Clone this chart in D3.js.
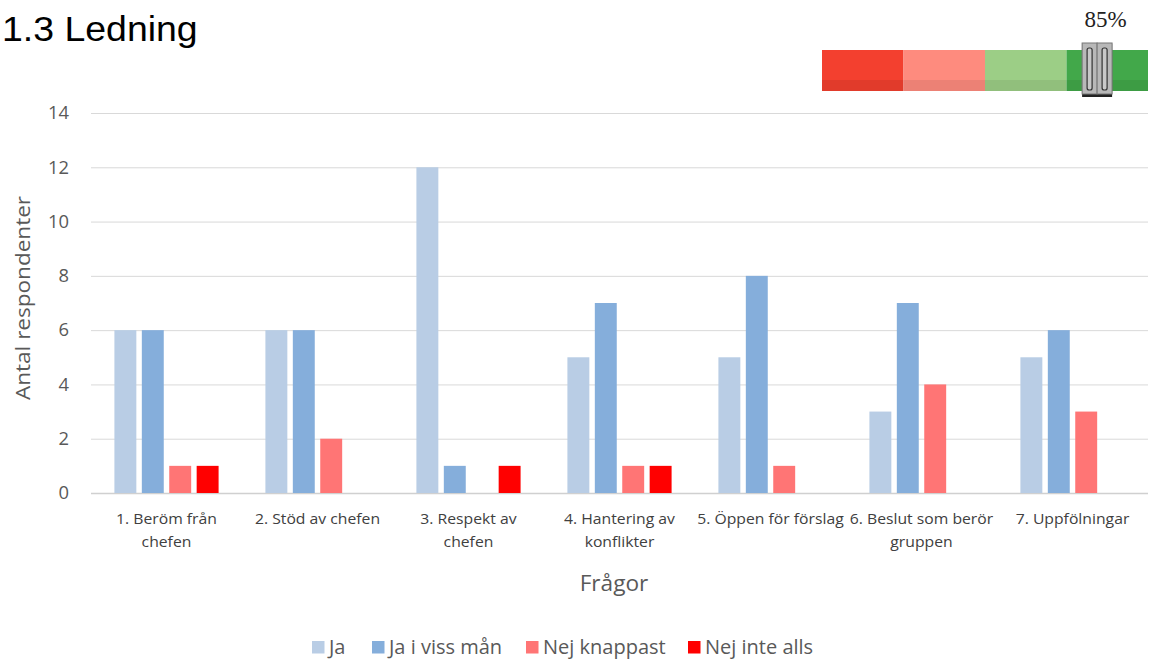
<!DOCTYPE html>
<html><head><meta charset="utf-8">
<script src="https://cdn.jsdelivr.net/npm/d3@7"></script>
<style>body{margin:0;background:#fff;}svg{display:block;}</style>
</head><body>
<script>
const categories = ["1. Beröm från\nchefen","2. Stöd av chefen","3. Respekt av\nchefen","4. Hantering av\nkonflikter","5. Öppen för förslag","6. Beslut som berör\ngruppen","7. Uppfölningar"];
const seriesNames = ["Ja","Ja i viss mån","Nej knappast","Nej inte alls"];
const ja = [6,6,12,5,5,3,5];
const jaIVissMan = [6,6,1,7,8,7,6];
const nejKnappast = [1,2,0,1,1,4,3];
const nejInteAlls = [1,0,1,1,0,0,0];
const yTicks = [0,2,4,6,8,10,12,14];
const gaugeValue = 85;
const gaugeBands = [0,25,50,75,100];

const colors = ["#B9CDE5","#85AEDB","#FF7575","#FF0000"];
const gaugeColors = ["#F3402F","#FE8B7E","#9CCE86","#42A84A"];
const series = [ja, jaIVissMan, nejKnappast, nejInteAlls];

const W=1150,H=661;
const svg=d3.select("body").append("svg").attr("width",W).attr("height",H);
const m={left:91,right:1148,top:113,bottom:493};
const x=d3.scaleBand().domain(categories).range([m.left,m.right]).paddingInner(0.31).paddingOuter(0.155);
const xs=d3.scaleBand().domain(seriesNames).range([0,x.bandwidth()]).paddingInner(0.2);
const y=d3.scaleLinear().domain([0,14]).range([m.bottom,m.top]);
const FONT="Open Sans, sans-serif";

function stext(parent,tx,ty,str,opts){
  const t=parent.append("text")
   .attr("transform",`translate(${tx},${ty})${opts.rot?` rotate(${opts.rot})`:""} scale(${opts.sx||1},1)`)
   .attr("text-anchor",opts.anchor||"start").attr("font-family",opts.font||FONT)
   .attr("font-size",opts.size).attr("fill",opts.fill||"#595959").text(str);
  if(opts.dy) t.attr("dy",opts.dy);
  return t;
}

// gridlines
svg.append("g").selectAll("line").data(yTicks).join("line")
 .attr("x1",m.left).attr("x2",m.right).attr("y1",d=>y(d)+0.5).attr("y2",d=>y(d)+0.5)
 .attr("stroke",d=>d===0?"#d0d0d0":"#d9d9d9").attr("stroke-width",d=>d===0?1.5:1);

// y tick labels
const yt=svg.append("g");
yTicks.forEach(d=>stext(yt,69,y(d),d,{anchor:"end",size:17.5,sx:1.05,dy:"0.36em"}));

// bars
const g=svg.append("g");
series.forEach((s,i)=>{
 g.append("g").selectAll("rect").data(s.map((v,j)=>({v,c:categories[j]}))).join("rect")
  .attr("x",d=>x(d.c)+xs(seriesNames[i])).attr("width",xs.bandwidth())
  .attr("y",d=>y(d.v)).attr("height",d=>y(0)-y(d.v)).attr("fill",colors[i]);
});

// x labels
const xl=svg.append("g");
categories.forEach(c=>{
 c.split("\n").forEach((ln,k)=>stext(xl,x(c)+x.bandwidth()/2,524+k*22.5,ln,{anchor:"middle",size:15,sx:1.05,fill:"#404040"}));
});

// axis titles
stext(svg,614,591,"Frågor",{anchor:"middle",size:22,sx:1.03});
stext(svg,30,298,"Antal respondenter",{anchor:"middle",size:20.5,sx:1.1,rot:-90});

// title
stext(svg,2,41,"1.3 Ledning",{size:35,sx:1.07,font:"Liberation Sans, Arial, sans-serif",fill:"#000"});

// legend
const leg=[{n:"Ja",x:312},{n:"Ja i viss mån",x:372},{n:"Nej knappast",x:526},{n:"Nej inte alls",x:688}];
leg.forEach((l,i)=>{
 svg.append("rect").attr("x",l.x).attr("y",641).attr("width",12.5).attr("height",12.5).attr("fill",colors[i]);
 stext(svg,l.x+17,654,l.n,{size:20});
});

// gauge
const gx=d3.scaleLinear().domain([0,100]).range([822,1148]);
const gg=svg.append("g");
for(let i=0;i<4;i++){
 gg.append("rect").attr("x",gx(gaugeBands[i])).attr("y",50).attr("width",gx(gaugeBands[i+1])-gx(gaugeBands[i])).attr("height",41).attr("fill",gaugeColors[i]);
 gg.append("rect").attr("x",gx(gaugeBands[i])).attr("y",80).attr("width",gx(gaugeBands[i+1])-gx(gaugeBands[i])).attr("height",11).attr("fill","#000").attr("opacity",0.07);
}
const hx=gx(gaugeValue)-2;
gg.append("rect").attr("x",hx-15).attr("y",44).attr("width",30).attr("height",53).attr("fill","#222");
gg.append("rect").attr("x",hx-15).attr("y",43).attr("width",15).attr("height",51).attr("fill","#b8b8b8").attr("stroke","#777").attr("stroke-width",1);
gg.append("rect").attr("x",hx).attr("y",43).attr("width",15).attr("height",51).attr("fill","#b8b8b8").attr("stroke","#777").attr("stroke-width",1);
gg.append("rect").attr("x",hx-10).attr("y",48).attr("width",5).attr("height",42).attr("fill","#c8c8c8").attr("stroke","#333").attr("stroke-width",1.2).attr("rx",2);
gg.append("rect").attr("x",hx+5).attr("y",48).attr("width",5).attr("height",42).attr("fill","#c8c8c8").attr("stroke","#333").attr("stroke-width",1.2).attr("rx",2);
stext(svg,gx(gaugeValue)+6.5,27,gaugeValue+"%",{anchor:"middle",size:23,font:"Liberation Serif, Times New Roman, serif",fill:"#222"});
</script>
</body></html>
